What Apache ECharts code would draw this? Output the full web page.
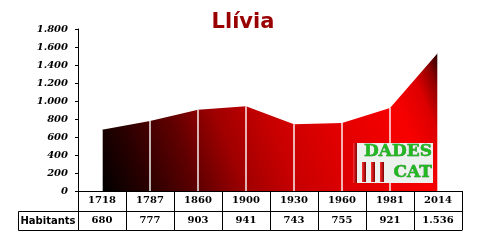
<!DOCTYPE html>
<html><head><meta charset="utf-8">
<script src="https://cdn.jsdelivr.net/npm/echarts@6/dist/echarts.min.js"></script>
<style>html,body{margin:0;padding:0;background:#fff}#c{width:480px;height:240px}</style>
</head><body><div id="c"></div>
<script>
var categories = ['1718','1787','1860','1900','1930','1960','1981','2014'];
var habitants = [680, 777, 903, 941, 743, 755, 921, 1536];
var yTicks = {min: 0, max: 1800, interval: 200};
var rowLabel = 'Habitants';

function fmt(v){ return String(v).replace(/\B(?=(\d{3})+(?!\d))/g, '.'); }

var chart = echarts.init(document.getElementById('c'), null, {renderer:'canvas'});
var serif = 'DejaVu Serif';
var grad = new echarts.graphic.LinearGradient(0, 1, 1, 0, [
  {offset:0, color:'#000000'},
  {offset:0.12, color:'#2a0000'},
  {offset:0.25, color:'#600000'},
  {offset:0.37, color:'#a00000'},
  {offset:0.5, color:'#c80000'},
  {offset:0.65, color:'#e00000'},
  {offset:0.84, color:'#f80000'},
  {offset:0.915, color:'#dd0000'},
  {offset:0.96, color:'#900000'},
  {offset:1, color:'#200000'}
]);
var barGrad = new echarts.graphic.LinearGradient(0, 0, 1, 0, [
  {offset:0, color:'#ff3030'}, {offset:1, color:'#800000'}
]);
chart.setOption({
  animation: false,
  title: {text:'Llívia', left: 238, textAlign:'center', top: 7,
    textStyle:{color:'#990000', fontFamily:'DejaVu Sans', fontWeight:'bold', fontSize:21}},
  grid: {left:78, right:18, top:29, bottom:49},
  xAxis: [
    {type:'category', data:categories, position:'bottom',
     axisLine:{lineStyle:{color:'#000', width:1}},
     axisTick:{show:true, length:39, interval:0, lineStyle:{color:'#000', width:1}},
     axisLabel:{margin:4, interval:0, color:'#000', fontFamily:serif, fontWeight:'bold', fontSize:10},
     splitLine:{show:false}},
    {type:'category', data:habitants.map(fmt), position:'bottom', offset:20,
     axisLine:{lineStyle:{color:'#000', width:1}},
     axisTick:{show:false},
     axisLabel:{margin:4, interval:0, color:'#000', fontFamily:serif, fontWeight:'bold', fontSize:10},
     splitLine:{show:false}},
    {type:'category', data:categories, position:'bottom', offset:39,
     axisLine:{lineStyle:{color:'#000', width:1}},
     axisTick:{show:false}, axisLabel:{show:false}, splitLine:{show:false}}
  ],
  yAxis: {type:'value', min:yTicks.min, max:yTicks.max, interval:yTicks.interval,
    axisLine:{show:true, lineStyle:{color:'#000', width:1}},
    axisTick:{show:true, length:3, lineStyle:{color:'#000'}},
    axisLabel:{margin:10, color:'#000', fontFamily:serif, fontWeight:'bold', fontStyle:'italic', fontSize:10,
      formatter:function(v){return fmt(v);}},
    splitLine:{show:false}},
  series: [
    {type:'line', data:habitants, symbol:'none', smooth:false, z:2,
     lineStyle:{width:0}, areaStyle:{color:grad, opacity:1}},
    {type:'bar', data:habitants, barWidth:1.4, z:3, itemStyle:{color:'#ffffff'}}
  ],
  graphic: [
    {type:'rect', shape:{x:18.5, y:211.5, width:60, height:19}, style:{fill:'none', stroke:'#000', lineWidth:1}},
    {type:'text', x:48, y:221, style:{text:rowLabel, fontFamily:'DejaVu Sans', fontWeight:'bold', fontSize:10, fill:'#000', align:'center', verticalAlign:'middle'}},
    {type:'rect', z:100, shape:{x:353, y:143, width:80, height:40}, style:{fill:'#eef2ee'}},
    {type:'rect', z:101, shape:{x:353, y:143, width:4, height:40}, style:{fill:barGrad}},
    {type:'rect', z:101, shape:{x:362, y:162, width:4, height:20}, style:{fill:barGrad}},
    {type:'rect', z:101, shape:{x:371, y:162, width:4, height:20}, style:{fill:barGrad}},
    {type:'rect', z:101, shape:{x:380, y:162, width:4, height:20}, style:{fill:barGrad}},
    {type:'text', z:101, x:432, y:152, style:{text:'DADES', fontFamily:serif, fontWeight:'bold', fontSize:17, fill:'#22b822', stroke:'#137013', lineWidth:0.5, align:'right', verticalAlign:'middle'}},
    {type:'text', z:101, x:432, y:173, style:{text:'CAT', fontFamily:serif, fontWeight:'bold', fontSize:17, fill:'#22b822', stroke:'#137013', lineWidth:0.5, align:'right', verticalAlign:'middle'}}
  ]
});
</script></body></html>
